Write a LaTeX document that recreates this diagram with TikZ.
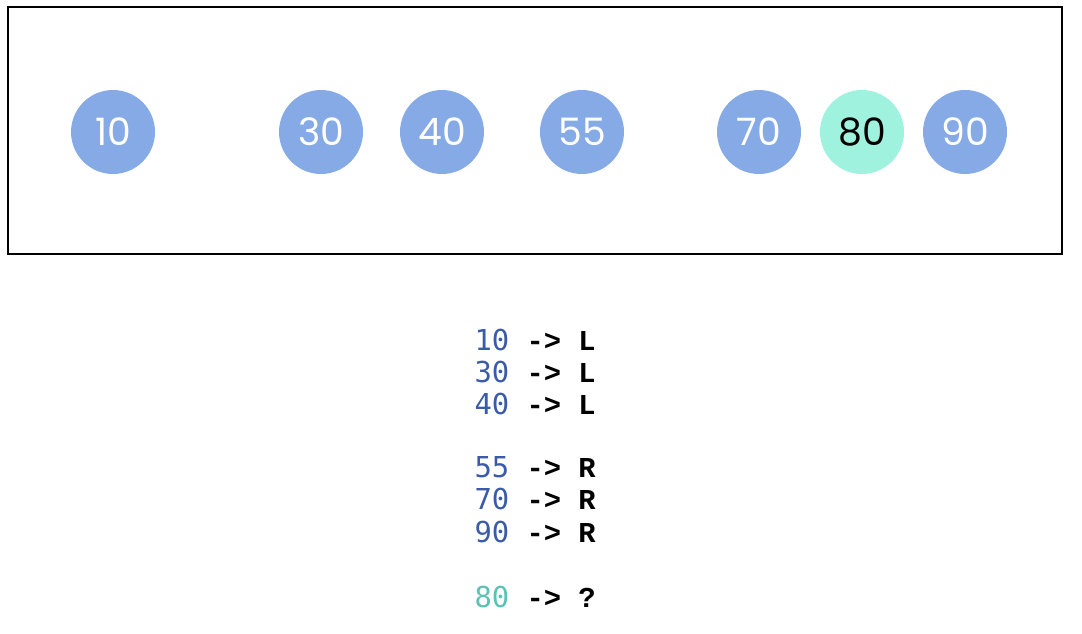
\documentclass[tikz,border=0pt]{standalone}
\usepackage{fontspec}
\usepackage{xcolor}
\newfontfamily\ballfont{Poppins}
\newfontfamily\numfont{DejaVu Sans Mono}
\newfontfamily\codefont{Liberation Mono}
\definecolor{ballblue}{HTML}{86AAE6}
\definecolor{ballteal}{HTML}{9EF2DE}
\definecolor{numblue}{HTML}{3A5BA8}
\definecolor{numteal}{HTML}{5CC1B5}

\begin{document}
\begin{tikzpicture}[
            x = 0.02cm, y = -0.02cm, % one unit is one pixel
            semithick
        ]

        \tikzstyle{ball}=[
            circle,
            fill = ballblue,
            minimum size = 1.68cm,
            inner sep = 0pt,
            text = white,
            font = \ballfont\fontsize{21.5}{22}\selectfont
        ]
        \tikzstyle{query}=[
            ball,
            fill = ballteal,
            text = black
        ]
        \tikzstyle{codeline}=[
            anchor = base west,
            inner sep = 0pt,
            font = \codefont\bfseries\fontsize{16.4}{18}\selectfont
        ]

        \useasboundingbox (0,0) rectangle (1082,634);

        % the set of keys
        \node[draw = black, thick, minimum width = 21.08cm, minimum height = 4.94cm,
              inner sep = 0pt] (frame) at (535,130.5) {};

        \node[ball] (n10) at (113,132) {10};
        \node[ball] (n30) at (321,132) {30};
        \node[ball] (n40) at (442,132) {40};
        \node[ball] (n55) at (582,132) {55};
        \node[ball] (n70) at (759,132) {70};
        \node[query] (n80) at (862,132) {80};
        \node[ball] (n90) at (965,132) {90};

        % side of each key
        \node[codeline] (l10) at (474,351) {{\numfont\mdseries\color{numblue}10} -> L};
        \node[codeline] (l30) at (474,383) {{\numfont\mdseries\color{numblue}30} -> L};
        \node[codeline] (l40) at (474,415) {{\numfont\mdseries\color{numblue}40} -> L};
        \node[codeline] (l55) at (474,478) {{\numfont\mdseries\color{numblue}55} -> R};
        \node[codeline] (l70) at (474,510) {{\numfont\mdseries\color{numblue}70} -> R};
        \node[codeline] (l90) at (474,543) {{\numfont\mdseries\color{numblue}90} -> R};
        \node[codeline] (l80) at (474,607) {{\numfont\mdseries\color{numteal}80} -> ?};

  \end{tikzpicture}
\end{document}
